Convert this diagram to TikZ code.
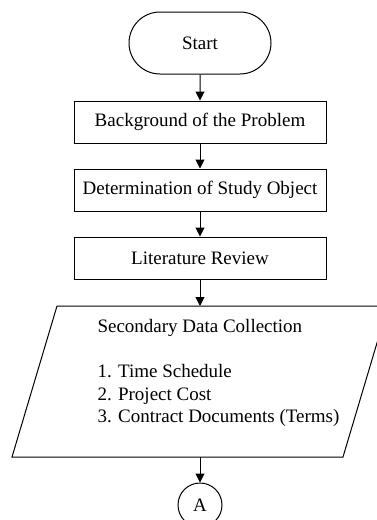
\documentclass[tikz,border=0pt]{standalone}
\usepackage{fontspec}
\setmainfont{Liberation Serif}
\usetikzlibrary{arrows.meta,shapes.misc}
\begin{document}
\begin{tikzpicture}[x=1pt,y=-1pt,
  line width=1pt,
  every node/.style={font=\fontsize{19}{22.5}\selectfont, inner sep=0pt},
  term/.style={draw, rounded rectangle, minimum width=142pt, minimum height=62pt},
  procbox/.style={draw, rectangle, minimum width=252pt, minimum height=42pt},
  conn/.style={draw, circle, minimum size=44pt},
  flow/.style={-{Triangle[length=9pt,width=9pt]}}
]
\path[use as bounding box, clip] (0,0) rectangle (377,520);
\node[term] (start) at (200,43) {Start};
\node[procbox] (bg) at (200,122) {Background of the Problem};
\node[procbox] (det) at (200,190) {Determination of Study Object};
\node[procbox] (lit) at (200,258) {Literature Review};
\coordinate (pt) at (200,306);
\coordinate (pb) at (200,457);
\draw (57,306) -- (388,306) -- (343,457) -- (12,457) -- cycle;
\node[align=left, anchor=north west] (sdc) at (97,319) {Secondary Data Collection\\[22.5pt]1. Time Schedule\\2. Project Cost\\3. Contract Documents (Terms)};
\node[conn] (a) at (200,505) {A};
\draw[flow] (start) -- (bg);
\draw[flow] (bg) -- (det);
\draw[flow] (det) -- (lit);
\draw[flow] (lit) -- (pt);
\draw[flow] (pb) -- (a);
\end{tikzpicture}
\end{document}
